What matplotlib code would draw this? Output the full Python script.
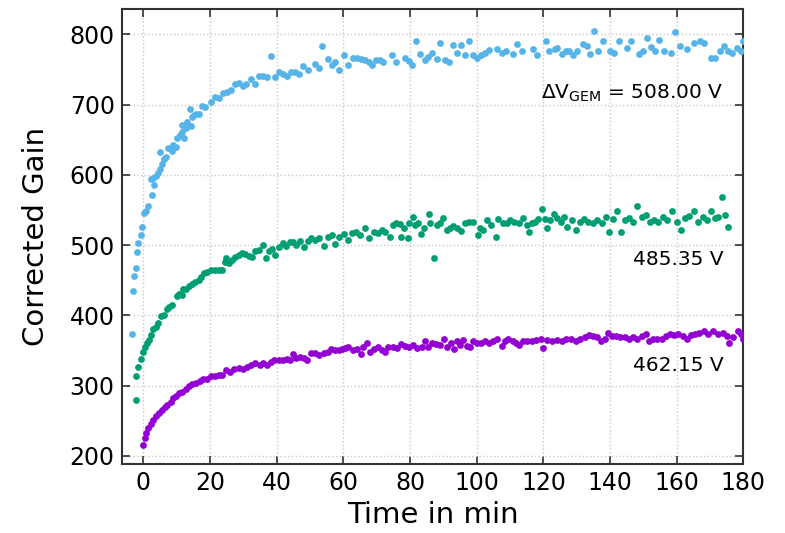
import matplotlib
matplotlib.use("Agg")
import matplotlib.pyplot as plt

# Gain vs. time after switching on, three GEM voltages
t_508 = [-3.5, -3.2, -2.7, -2.3, -1.9, -1.5, -0.8, -0.3, 0.3, 0.9, 1.5, 2.2, 2.5, 3.0, 3.2, 3.8,
         4.4, 4.9, 5.1, 5.5, 6.1, 6.7, 7.5, 8.5, 9.0, 9.7, 10.0, 10.9, 11.5, 11.7, 12.2, 12.7,
         13.2, 14.0, 14.2, 14.7, 15.2, 15.9, 16.7, 17.5, 18.5, 20.2, 21.5, 22.7, 24.0, 25.0,
         26.2, 27.6, 28.6, 29.9, 30.9, 32.3, 33.5, 34.6, 35.9, 37.1, 38.4, 39.5, 40.7, 41.9,
         43.1, 44.3, 45.5, 46.8, 47.9, 49.3, 51.6, 52.8, 53.7, 55.4, 56.6, 57.5, 58.8, 60.1,
         61.5, 62.8, 64.0, 65.3, 66.5, 67.7, 68.6, 69.8, 71.0, 72.0, 74.6, 75.8, 78.5, 79.6,
         80.6, 81.8, 83.0, 84.5, 85.5, 86.7, 88.0, 89.0, 90.5, 91.7, 92.8, 94.0, 95.2, 96.6,
         97.8, 99.0, 100.0, 101.2, 102.5, 103.8, 106.0, 107.5, 108.7, 111.0, 112.2, 113.7,
         117.0, 118.2, 120.8, 121.8, 123.5, 124.2, 125.5, 126.8, 127.8, 129.0, 130.2, 131.8,
         133.0, 134.0, 135.2, 136.3, 137.8, 140.0, 141.2, 142.8, 145.0, 146.2, 148.8, 150.0,
         151.2, 152.2, 153.5, 154.8, 156.2, 158.2, 159.5, 161.0, 163.0, 165.2, 167.0, 168.2,
         170.2, 171.5, 173.0, 174.2, 175.5, 176.5, 178.0, 179.3, 180.0]
g_508 = [373, 435, 456, 468, 490, 503, 514, 526, 546, 549, 556, 594, 571, 596, 585, 598,
         603, 608, 632, 616, 622, 625, 638, 634, 642, 639, 652, 657, 671, 661, 653, 666,
         675, 694, 669, 683, 685, 686, 686, 698, 697, 704, 711, 709, 717, 718,
         721, 729, 731, 726, 729, 736, 729, 741, 740, 739, 769, 739, 747, 743,
         741, 746, 747, 743, 755, 749, 758, 752, 783, 765, 756, 760, 749, 770,
         756, 766, 766, 765, 763, 761, 757, 763, 763, 760, 770, 760, 767, 762,
         756, 790, 772, 763, 768, 773, 765, 787, 764, 760, 785, 774, 785, 770,
         790, 771, 767, 770, 773, 778, 779, 773, 777, 772, 786, 777,
         779, 770, 791, 777, 779, 781, 772, 777, 777, 770, 777, 786,
         783, 772, 805, 776, 790, 776, 774, 790, 780, 790, 772, 776,
         795, 782, 777, 792, 777, 774, 803, 783, 779, 787, 791, 788,
         767, 767, 777, 783, 777, 774, 780, 777, 790]

t_485 = [-2.3, -2.1, -1.5, -0.6, 0.0, 0.5, 1.2, 1.7, 2.2, 3.0, 3.7, 4.3, 5.2, 6.1, 7.0, 7.7,
         8.7, 10.0, 10.7, 11.5, 12.0, 12.9, 13.7, 14.7, 15.5, 16.7, 17.4, 18.2, 19.2, 20.2,
         21.5, 22.7, 23.7, 24.4, 24.9, 25.6, 26.6, 27.6, 28.6, 29.6, 30.6, 31.6, 32.6, 33.6,
         34.6, 35.9, 36.9, 37.6, 38.6, 39.6, 40.8, 41.9, 42.9, 43.9, 44.9, 45.9, 47.1, 48.3,
         49.3, 50.3, 51.6, 52.8, 54.1, 55.3, 56.6, 57.6, 58.6, 60.1, 61.5, 62.6, 63.9, 65.0,
         66.5, 67.8, 69.1, 70.5, 71.6, 72.6, 73.9, 74.9, 75.9, 77.1, 77.4, 78.1, 79.3, 79.6,
         80.8, 81.6, 82.3, 83.3, 84.3, 85.6, 86.1, 87.3, 88.0, 89.0, 90.0, 91.0, 92.0, 93.0,
         94.0, 95.3, 96.5, 97.8, 98.8, 100.3, 101.0, 102.0, 103.0, 104.2, 105.7, 106.5, 107.8,
         109.0, 110.0, 111.3, 112.8, 113.8, 115.0, 115.6, 116.5, 117.5, 118.5, 119.7, 120.5,
         121.2, 122.0, 123.2, 124.0, 125.2, 126.2, 127.2, 128.5, 129.8, 131.0, 132.2, 133.5,
         134.8, 136.2, 137.5, 138.8, 139.8, 140.8, 142.0, 143.2, 144.5, 145.8, 147.0, 148.0,
         149.5, 150.8, 152.0, 153.3, 154.5, 155.8, 157.2, 158.7, 160.0, 161.2, 162.5, 163.8,
         165.2, 166.5, 167.8, 169.0, 170.2, 171.5, 172.5, 173.5, 174.5, 175.3]
g_485 = [280, 314, 327, 338, 348, 355, 360, 365, 372, 380, 384, 389, 399, 401, 409, 412,
         414, 427, 430, 429, 437, 438, 442, 445, 448, 450, 455, 460, 462, 464,
         465, 464, 464, 476, 481, 475, 479, 483, 486, 489, 487, 484, 483, 491,
         493, 500, 481, 491, 494, 486, 497, 503, 499, 504, 505, 500, 506, 497,
         506, 510, 507, 510, 499, 512, 514, 502, 512, 516, 507, 517, 518, 514,
         525, 510, 519, 517, 521, 518, 512, 529, 532, 530, 512, 525, 510, 531,
         540, 529, 531, 516, 525, 544, 531, 481, 529, 532, 538, 522, 525, 527,
         525, 520, 532, 533, 533, 514, 524, 522, 535, 529, 512, 537, 531,
         531, 536, 533, 532, 538, 529, 519, 532, 533, 537, 551, 537,
         525, 536, 544, 538, 533, 540, 526, 535, 521, 533, 537, 533,
         531, 536, 532, 540, 519, 537, 549, 519, 536, 538, 533, 556,
         540, 543, 533, 536, 533, 540, 536, 548, 533, 522, 538, 541,
         548, 533, 540, 536, 548, 538, 540, 568, 543, 526]

t_462 = [-0.1, 0.5, 0.9, 1.5, 2.2, 2.9, 3.7, 4.7, 5.5, 6.5, 7.2, 8.2, 8.9, 9.7, 10.7, 11.7,
         12.7, 13.7, 14.7, 15.7, 16.9, 17.9, 19.2, 20.2, 21.5, 22.7, 23.7, 24.7, 25.9, 27.3,
         28.6, 29.9, 31.1, 32.3, 33.6, 34.9, 35.9, 37.1, 38.3, 39.3, 40.6, 41.9, 43.1, 44.1,
         44.9, 45.9, 46.9, 48.1, 49.1, 50.3, 51.6, 52.8, 54.1, 55.3, 56.4, 57.6, 58.6, 59.6,
         60.6, 61.5, 62.9, 64.1, 65.2, 65.9, 67.1, 68.0, 69.1, 70.3, 71.6, 72.6, 73.5, 74.9,
         76.0, 77.3, 78.5, 79.8, 81.0, 82.2, 83.5, 84.5, 85.5, 86.5, 87.8, 89.0, 90.2, 91.2,
         92.2, 93.2, 94.0, 95.0, 96.0, 97.0, 98.0, 99.0, 100.0, 101.2, 102.5, 103.8, 105.0,
         106.2, 107.5, 108.5, 109.5, 110.8, 111.8, 112.8, 114.0, 115.2, 116.5, 117.8, 119.2,
         120.0, 121.0, 122.5, 124.0, 125.5, 126.8, 128.2, 129.8, 131.0, 132.5, 133.8, 135.0,
         136.2, 137.2, 138.5, 139.5, 140.5, 141.8, 143.0, 144.5, 145.8, 147.0, 148.2, 149.5,
         150.8, 151.8, 153.0, 154.2, 155.5, 156.8, 158.0, 159.2, 160.5, 161.8, 163.0, 164.2,
         165.5, 166.8, 168.2, 169.5, 171.0, 172.5, 174.0, 175.2, 175.8, 177.0, 178.5, 179.3,
         180.0]
g_462 = [216, 225, 232, 239, 246, 251, 256, 261, 265, 269, 272, 277, 282, 285, 289, 291,
         295, 299, 302, 304, 306, 309, 310, 313, 313, 315, 315, 322, 320, 324,
         325, 324, 327, 329, 332, 329, 332, 329, 334, 337, 336, 337, 338, 336,
         345, 339, 341, 339, 337, 347, 346, 344, 346, 348, 352, 350, 350, 352,
         353, 355, 351, 352, 345, 355, 360, 348, 352, 355, 351, 348, 355, 355,
         353, 359, 356, 355, 358, 353, 355, 364, 355, 360, 359, 358, 367, 355,
         360, 352, 363, 358, 365, 356, 355, 363, 361, 360, 363, 361, 364,
         366, 356, 363, 367, 363, 361, 358, 364, 363, 364, 365, 367,
         354, 365, 363, 365, 363, 366, 366, 363, 366, 369, 372, 370,
         369, 363, 366, 375, 370, 371, 369, 369, 366, 369, 367, 371,
         374, 364, 367, 366, 367, 371, 374, 372, 374, 370, 366, 372,
         374, 375, 377, 373, 377, 374, 375, 371, 361, 369, 378, 374,
         366]

series = [
    (t_508, g_508, "#56b4e9"),
    (t_485, g_485, "#009e73"),
    (t_462, g_462, "#9400d3"),
]

fig, ax = plt.subplots(figsize=(7.85, 5.33), dpi=100)
fig.subplots_adjust(left=0.155, right=0.947, bottom=0.129, top=0.983)

for t, g, c in series:
    ax.scatter(t, g, s=24, color=c, linewidths=0, zorder=3)

ax.set_xlim(-6.5, 180)
ax.set_ylim(188, 836)
ax.set_xticks(range(0, 181, 20))
ax.set_yticks(range(200, 801, 100))
ax.grid(True, ls=":", color="#c8c8c8", lw=1.0)
ax.tick_params(direction="in", top=True, right=True, length=6, width=1.2,
               labelsize=17, colors="#333333", labelcolor="black", pad=5)
for sp in ax.spines.values():
    sp.set_linewidth(1.5)
    sp.set_color("#333333")

ax.set_xlabel("Time in min", fontsize=21, labelpad=4)
ax.set_ylabel("Corrected Gain", fontsize=21, labelpad=14)

ax.text(174, 716, r"$\Delta$V$_\mathrm{GEM}$ = 508.00 V", fontsize=14.5,
        ha="right", va="center")
ax.text(174, 479, "485.35 V", fontsize=14.5, ha="right", va="center")
ax.text(174, 329, "462.15 V", fontsize=14.5, ha="right", va="center")

fig.savefig("out.png", dpi=100)
